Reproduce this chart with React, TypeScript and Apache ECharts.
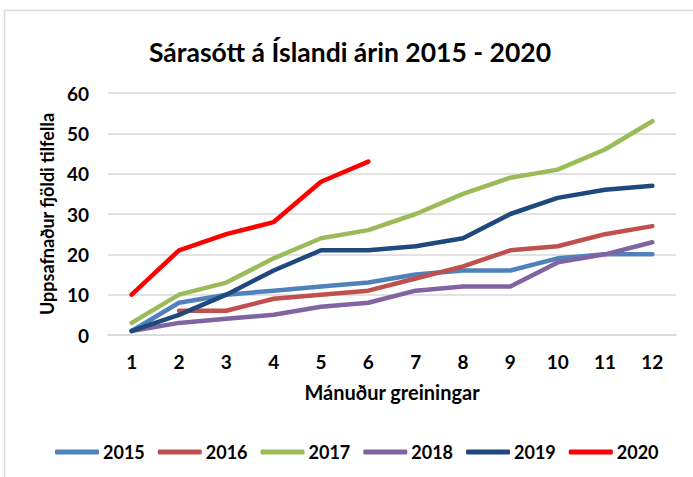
import React, { useEffect, useRef } from "react";
import * as echarts from "echarts";

const months = ["1", "2", "3", "4", "5", "6", "7", "8", "9", "10", "11", "12"];
const years = ["2015", "2016", "2017", "2018", "2019", "2020"];
const s2015 = [1, 8, 10, 11, 12, 13, 15, 16, 16, 19, 20, 20];
const s2016 = [null, 6, 6, 9, 10, 11, 14, 17, 21, 22, 25, 27];
const s2017 = [3, 10, 13, 19, 24, 26, 30, 35, 39, 41, 46, 53];
const s2018 = [1, 3, 4, 5, 7, 8, 11, 12, 12, 18, 20, 23];
const s2019 = [1, 5, 10, 16, 21, 21, 22, 24, 30, 34, 36, 37];
const s2020 = [10, 21, 25, 28, 38, 43];
const colors = ["#4F81BD", "#C0504D", "#9BBB59", "#8064A2", "#1F497D", "#FF0000"];
const seriesData = [s2015, s2016, s2017, s2018, s2019, s2020];

const FONT = "Lato";

export default function App() {
  const ref = useRef<HTMLDivElement>(null);
  useEffect(() => {
    if (!ref.current) return;
    const chart = echarts.init(ref.current, undefined, { renderer: "svg" });
    chart.setOption({
      animation: false,
      backgroundColor: "#ffffff",
      textStyle: { fontFamily: FONT, fontWeight: "bold", color: "#000" },
      title: {
        text: "Sárasótt á Íslandi árin 2015 - 2020",
        left: 345,
        textAlign: "center",
        top: 33,
        textStyle: { fontFamily: FONT, fontWeight: "bold", fontSize: 26.5, color: "#000" },
      },
      graphic: [
        {
          type: "rect",
          shape: { x: 4.5, y: 10.5, width: 720, height: 520 },
          style: { fill: "none", stroke: "#D9D9D9", lineWidth: 1.5 },
          silent: true,
        },
      ],
      grid: { left: 108, right: 17, top: 93, bottom: 142, containLabel: false },
      legend: {
        data: years,
        left: 50,
        top: 438,
        itemGap: 13,
        itemWidth: 44,
        itemHeight: 5,
        icon: "roundRect",
        textStyle: { fontFamily: FONT, fontWeight: "bold", fontSize: 18, color: "#000", padding: [0, 0, 0, -1] },
      },
      xAxis: {
        type: "category",
        data: months,
        boundaryGap: true,
        name: "Mánuður greiningar",
        nameLocation: "middle",
        nameGap: 47,
        nameTextStyle: { fontFamily: FONT, fontWeight: "bold", fontSize: 20, color: "#000" },
        axisLine: { show: true, lineStyle: { color: "#D9D9D9", width: 1.5 } },
        axisTick: { show: false },
        axisLabel: { margin: 17, fontFamily: FONT, fontWeight: "bold", fontSize: 19, color: "#000" },
      },
      yAxis: {
        type: "value",
        min: 0,
        max: 60,
        interval: 10,
        name: "Uppsafnaður fjöldi tilfella",
        nameLocation: "middle",
        nameGap: 52,
        nameTextStyle: { fontFamily: FONT, fontWeight: "bold", fontSize: 18, color: "#000" },
        axisLine: { show: false },
        axisTick: { show: false },
        axisLabel: { margin: 19, fontFamily: FONT, fontWeight: "bold", fontSize: 19, color: "#000" },
        splitLine: { lineStyle: { color: "#D9D9D9", width: 1.5 } },
      },
      series: years.map((y, i) => ({
        name: y,
        type: "line",
        data: seriesData[i],
        showSymbol: false,
        symbol: "none",
        connectNulls: false,
        lineStyle: { color: colors[i], width: 4.5, cap: "round", join: "round" },
        itemStyle: { color: colors[i] },
      })),
    });
    return () => chart.dispose();
  }, []);
  return (
    <div
      ref={ref}
      style={{ position: "fixed", left: 0, top: 0, width: 693, height: 477 }}
    />
  );
}
